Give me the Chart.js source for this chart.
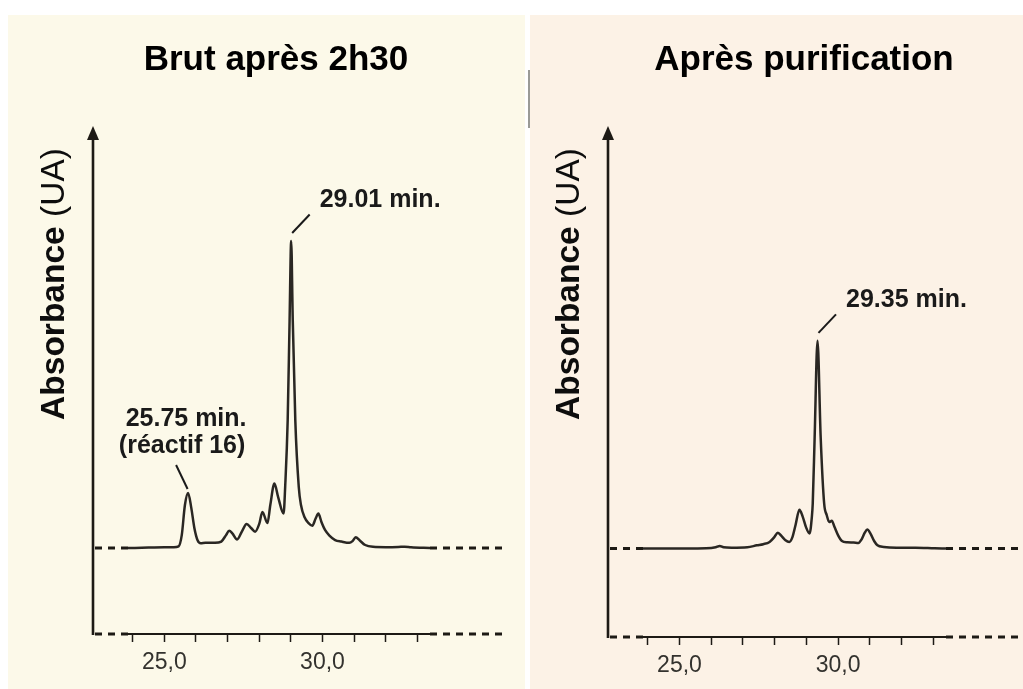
<!DOCTYPE html>
<html>
<head>
<meta charset="utf-8">
<script src="https://cdn.jsdelivr.net/npm/chart.js@4.4.1/dist/chart.umd.min.js"></script>
<style>
  html, body { margin: 0; padding: 0; background: #ffffff; }
  body { width: 1023px; height: 689px; position: relative; overflow: hidden; }
  .panel { position: absolute; top: 15px; height: 674px; }
  #panelCrude { left: 8px; width: 517px; background: #fcf9e9; }
  #panelPure { left: 530px; width: 493px; background: #fcf2e6; }
  .divider { position: absolute; left: 528px; top: 70px; width: 2px; height: 58px; background: #9a9a96; }
  canvas { display: block; }
</style>
</head>
<body>
<div class="panel" id="panelCrude"><canvas id="chartCrude" width="514" height="674" style="width:514px;height:674px"></canvas></div>
<div class="panel" id="panelPure"><canvas id="chartPure" width="493" height="674" style="width:493px;height:674px"></canvas></div>
<div class="divider"></div>
<script>
// Retention time (min) and absorbance (arbitrary units, 0 = baseline)
const timesCrude = [23.85, 24.5, 25.0, 25.3, 25.45, 25.55, 25.65, 25.75, 25.85, 25.95, 26.05, 26.15, 26.3, 26.6, 26.8,
  26.95, 27.05, 27.15, 27.3, 27.45, 27.6, 27.75, 27.87, 28.0, 28.1, 28.26, 28.35, 28.48, 28.6, 28.77, 28.82, 28.9,
  28.96, 29.01, 29.06, 29.14, 29.25, 29.32, 29.43, 29.56, 29.68, 29.78, 29.87, 29.97, 30.08, 30.22, 30.4, 30.6,
  30.85, 30.95, 31.05, 31.18, 31.35, 31.6, 32.0, 32.4, 32.6, 32.8, 33.4];
const absCrude = [0.0, 0.005, 0.01, 0.01, 0.02, 0.15, 0.5, 0.64, 0.47, 0.23, 0.09, 0.055, 0.06, 0.06, 0.075,
  0.15, 0.20, 0.17, 0.10, 0.19, 0.28, 0.23, 0.19, 0.28, 0.42, 0.29, 0.5, 0.75, 0.59, 0.40, 0.71, 1.49,
  2.65, 3.57, 2.65, 1.49, 0.71, 0.50, 0.36, 0.29, 0.26, 0.34, 0.40, 0.30, 0.21, 0.145, 0.093, 0.075,
  0.06, 0.08, 0.125, 0.087, 0.035, 0.014, 0.01, 0.012, 0.015, 0.008, 0.0];

const timesPure = [23.85, 25.2, 25.84, 26.14, 26.27, 26.39, 26.64, 27.14, 27.44, 27.64, 27.84, 27.99, 28.10, 28.22,
  28.34, 28.46, 28.56, 28.66, 28.78, 28.88, 28.99, 29.10, 29.17, 29.20, 29.26, 29.35, 29.45, 29.56, 29.64, 29.72,
  29.80, 29.88, 30.00, 30.12, 30.29, 30.49, 30.64, 30.74, 30.84, 30.92, 31.02, 31.14, 31.24, 31.44, 31.84, 32.44,
  33.04, 33.4];
const absPure = [0.0, 0.0, 0.003, 0.015, 0.03, 0.015, 0.01, 0.015, 0.037, 0.05, 0.075, 0.13, 0.18, 0.14,
  0.094, 0.075, 0.13, 0.27, 0.44, 0.365, 0.24, 0.17, 0.35, 0.51, 1.26, 2.35, 1.26, 0.51, 0.38, 0.30,
  0.315, 0.25, 0.15, 0.086, 0.071, 0.068, 0.063, 0.105, 0.18, 0.215, 0.17, 0.083, 0.037, 0.018, 0.009, 0.009,
  0.003, 0.0];

// Annotated peaks
const peaksCrude = [25.75, 29.01];
const peakNotesCrude = ['(réactif 16)', ''];
const peaksPure = [29.35];
const peakNotesPure = [''];

// Axis text
const labeledTicks = [25, 30];
const tickLabels = ['25,0', '30,0'];
const titleCrude = 'Brut après 2h30';
const titlePure = 'Après purification';
const yTitleMain = 'Absorbance';
const yTitleUnit = '(UA)';

const INK = '#1d1a15';
const TRACE = '#2a2723';
const FONT = '"Liberation Sans", Arial, Helvetica, sans-serif';

function line(ctx, x1, y1, x2, y2) {
  ctx.beginPath(); ctx.moveTo(x1, y1); ctx.lineTo(x2, y2); ctx.stroke();
}

// Axis arrow, dashed baselines, titles and peak callouts
const chromatogramDecor = {
  id: 'chromatogramDecor',
  afterDraw(chart, args, o) {
    const { ctx, chartArea: a, scales: { x, y } } = chart;
    const axisX = a.left - o.axisGap;
    const base = y.getPixelForValue(0);
    ctx.save();

    // panel title
    ctx.fillStyle = '#000';
    ctx.font = `bold 35px ${FONT}`;
    ctx.textAlign = 'center';
    ctx.textBaseline = 'middle';
    ctx.fillText(o.title, o.titleX, o.titleY);

    // vertical axis title (bold name, regular unit)
    ctx.save();
    ctx.translate(axisX - o.yTitleGap, o.yTitleY);
    ctx.rotate(-Math.PI / 2);
    ctx.textAlign = 'left';
    ctx.textBaseline = 'alphabetic';
    const bold = `bold 33.5px ${FONT}`, plain = `33.5px ${FONT}`;
    ctx.font = bold; const w1 = ctx.measureText(yTitleMain + ' ').width;
    ctx.font = plain; const w2 = ctx.measureText(yTitleUnit).width;
    const start = -(w1 + w2) / 2;
    ctx.fillStyle = '#0d0d0d';
    ctx.font = bold; ctx.fillText(yTitleMain + ' ', start, 0);
    ctx.font = plain; ctx.fillText(yTitleUnit, start + w1, 0);
    ctx.restore();

    // vertical axis with arrow head
    ctx.strokeStyle = INK;
    ctx.fillStyle = INK;
    ctx.lineWidth = 2.6;
    line(ctx, axisX, a.bottom + 1, axisX, a.top + 6);
    ctx.beginPath();
    ctx.moveTo(axisX, a.top - 5);
    ctx.lineTo(axisX - 6, a.top + 9);
    ctx.lineTo(axisX + 6, a.top + 9);
    ctx.closePath();
    ctx.fill();

    // dashed extensions of the baseline and of the time axis
    ctx.lineWidth = 3;
    ctx.setLineDash([7, 6]);
    for (const py of [base, a.bottom]) {
      line(ctx, axisX + 2, py, a.left, py);
      line(ctx, a.right, py, a.right + o.tail, py);
    }
    ctx.setLineDash([]);

    // peak callouts
    ctx.fillStyle = '#1a1a1a';
    ctx.font = `bold 25px ${FONT}`;
    ctx.lineWidth = 2;
    ctx.strokeStyle = '#1a1a1a';
    o.peaks.forEach((t, i) => {
      const k = o.times.indexOf(t);
      const px = x.getPixelForValue(t);
      const py = y.getPixelForValue(o.values[k]);
      const label = t.toFixed(2) + ' min.';
      const note = o.notes[i];
      if (note) {
        line(ctx, px - 0.5, py - 4, px - 12, py - 28);
        ctx.textAlign = 'center';
        ctx.textBaseline = 'alphabetic';
        ctx.fillText(label, px - 2, py - 67);
        ctx.fillText(note, px - 6, py - 40);
      } else {
        line(ctx, px + 1, py - 8, px + 18.5, py - 26.5);
        ctx.textAlign = 'left';
        ctx.textBaseline = 'alphabetic';
        ctx.fillText(label, px + 28.5, py - 34);
      }
    });
    ctx.restore();
  }
};

function makeChart(id, times, values, peaks, notes, cfg) {
  const points = times.map((t, i) => ({ x: t, y: values[i] }));
  return new Chart(document.getElementById(id), {
    type: 'line',
    data: {
      datasets: [{
        data: points,
        borderColor: TRACE,
        borderWidth: 2.5,
        pointRadius: 0,
        fill: false,
        cubicInterpolationMode: 'monotone'
      }]
    },
    options: {
      responsive: false,
      animation: false,
      events: [],
      layout: { padding: { left: cfg.padLeft, right: cfg.padRight, top: cfg.padTop, bottom: 0 } },
      plugins: {
        legend: { display: false },
        tooltip: { enabled: false },
        chromatogramDecor: {
          title: cfg.title, titleX: cfg.titleX, titleY: 45,
          axisGap: 35, yTitleGap: 29, yTitleY: 269, tail: 75,
          peaks, notes, times, values
        }
      },
      scales: {
        x: {
          type: 'linear',
          min: 23.85,
          max: 33.4,
          afterFit(scale) { scale.height = cfg.axisHeight; },
          border: { display: true, color: INK, width: 2 },
          grid: { drawOnChartArea: false, drawTicks: true, tickLength: 8, tickColor: INK, tickWidth: 1.5 },
          ticks: {
            stepSize: 1,
            includeBounds: false,
            autoSkip: false,
            maxRotation: 0,
            padding: 7,
            color: '#33322e',
            font: { family: FONT, size: 23 },
            callback(v) {
              const j = labeledTicks.indexOf(v);
              return j >= 0 ? tickLabels[j] : '';
            }
          }
        },
        y: {
          type: 'linear',
          display: false,
          min: -1,
          max: cfg.yMax
        }
      }
    },
    plugins: [chromatogramDecor]
  });
}

makeChart('chartCrude', timesCrude, absCrude, peaksCrude, peakNotesCrude, {
  title: titleCrude, titleX: 268, padLeft: 120, padRight: 92, padTop: 116, axisHeight: 55, yMax: 4.85
});
makeChart('chartPure', timesPure, absPure, peaksPure, peakNotesPure, {
  title: titlePure, titleX: 274, padLeft: 113, padRight: 77, padTop: 116, axisHeight: 52, yMax: 4.724
});
</script>
</body>
</html>
